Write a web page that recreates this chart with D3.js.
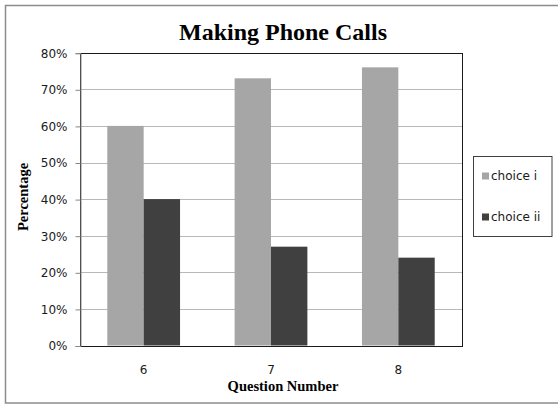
<!DOCTYPE html>
<html>
<head>
<meta charset="utf-8">
<script src="https://cdn.jsdelivr.net/npm/d3@7"></script>
<style>
  html, body { margin: 0; padding: 0; background: #fff; }
  svg { display: block; }
</style>
</head>
<body>
<svg id="chart" width="558" height="405"></svg>
<script>
const categories = ["6", "7", "8"];
const seriesNames = ["choice i", "choice ii"];
const choiceI = [60, 73, 76];
const choiceII = [40, 27, 24];
const yTicks = [0, 10, 20, 30, 40, 50, 60, 70, 80];
const colors = ["#a6a6a6", "#404040"];

const svg = d3.select("#chart");
const W = 558, H = 405;
const plot = { left: 80, right: 462, top: 52.7, bottom: 345.5 };

// outer chart border
svg.append("rect").attr("x", 5.5).attr("y", 5.5).attr("width", 560).attr("height", 397.5)
  .attr("fill", "#fff").attr("stroke", "#8c8c8c").attr("stroke-width", 1.5);

const x = d3.scaleBand().domain(categories).range([plot.left, plot.right])
  .paddingInner(1.5 / 3.5).paddingOuter(0.75 / 3.5);
const xs = d3.scaleBand().domain(seriesNames).range([0, x.bandwidth()]);
const y = d3.scaleLinear().domain([0, 80]).range([plot.bottom, plot.top]);

// gridlines
svg.append("g").selectAll("line").data(yTicks.filter(d => d > 0)).join("line")
  .attr("x1", plot.left).attr("x2", plot.right)
  .attr("y1", d => Math.round(y(d)) + 0.5).attr("y2", d => Math.round(y(d)) + 0.5)
  .attr("stroke", "#b8b8b8").attr("stroke-width", 1);

// bars
const data = categories.map((c, i) => ({ cat: c, values: [choiceI[i], choiceII[i]] }));
const g = svg.append("g").selectAll("g").data(data).join("g")
  .attr("transform", d => `translate(${x(d.cat)},0)`);
g.selectAll("rect").data(d => d.values.map((v, j) => ({ s: seriesNames[j], v, j }))).join("rect")
  .attr("x", d => xs(d.s)).attr("width", xs.bandwidth())
  .attr("y", d => y(d.v)).attr("height", d => y(0) - y(d.v))
  .attr("fill", d => colors[d.j]);

// plot border
svg.append("rect").attr("x", plot.left + 0.5).attr("y", Math.round(plot.top) + 0.5)
  .attr("width", plot.right - plot.left).attr("height", Math.round(plot.bottom) - Math.round(plot.top))
  .attr("fill", "none").attr("stroke", "#1a1a1a").attr("stroke-width", 1);

// y axis
const yAxis = d3.axisLeft(y).tickValues(yTicks).tickFormat(d => d + "%").tickSize(5).tickPadding(8);
const ya = svg.append("g").attr("transform", `translate(${plot.left + 0.5},0.5)`).call(yAxis);
ya.select(".domain").attr("stroke", "#868686");
ya.selectAll(".tick line").attr("stroke", "#868686");
ya.selectAll("text").attr("font-family", "DejaVu Sans, Verdana, sans-serif").attr("font-size", 12)
  .attr("fill", "#1a1a1a");

// x axis labels
const xAxis = d3.axisBottom(x).tickSize(0).tickPadding(20);
const xa = svg.append("g").attr("transform", `translate(0,${plot.bottom})`).call(xAxis);
xa.select(".domain").remove();
xa.selectAll("text").attr("font-family", "DejaVu Sans, Verdana, sans-serif").attr("font-size", 12)
  .attr("fill", "#1a1a1a");

// title
svg.append("text").attr("x", 283).attr("y", 39.5).attr("text-anchor", "middle")
  .attr("font-family", "Liberation Serif, Times New Roman, serif").attr("font-weight", "bold")
  .attr("font-size", 24).attr("fill", "#000").text("Making Phone Calls");

// axis titles
svg.append("text").attr("x", 283).attr("y", 391).attr("text-anchor", "middle")
  .attr("font-family", "Liberation Serif, Times New Roman, serif").attr("font-weight", "bold")
  .attr("font-size", 14.5).attr("fill", "#000").text("Question Number");
svg.append("text").attr("transform", "translate(28,197) rotate(-90)").attr("text-anchor", "middle")
  .attr("font-family", "Liberation Serif, Times New Roman, serif").attr("font-weight", "bold")
  .attr("font-size", 14.5).attr("fill", "#000").text("Percentage");

// legend
const lg = svg.append("g");
lg.append("rect").attr("x", 473.5).attr("y", 156.5).attr("width", 78.5).attr("height", 80)
  .attr("fill", "#fff").attr("stroke", "#404040").attr("stroke-width", 1);
const legendY = [176, 217];
const li = lg.selectAll("g.item").data(seriesNames).join("g").attr("class", "item")
  .attr("transform", (d, i) => `translate(482,${legendY[i]})`);
li.append("rect").attr("x", 0).attr("y", -3.5).attr("width", 7).attr("height", 7)
  .attr("fill", (d, i) => colors[i]);
li.append("text").attr("x", 9).attr("y", 0).attr("dy", "0.35em")
  .attr("font-family", "DejaVu Sans, Verdana, sans-serif").attr("font-size", 12)
  .attr("fill", "#1a1a1a").text(d => d);
</script>
</body>
</html>
